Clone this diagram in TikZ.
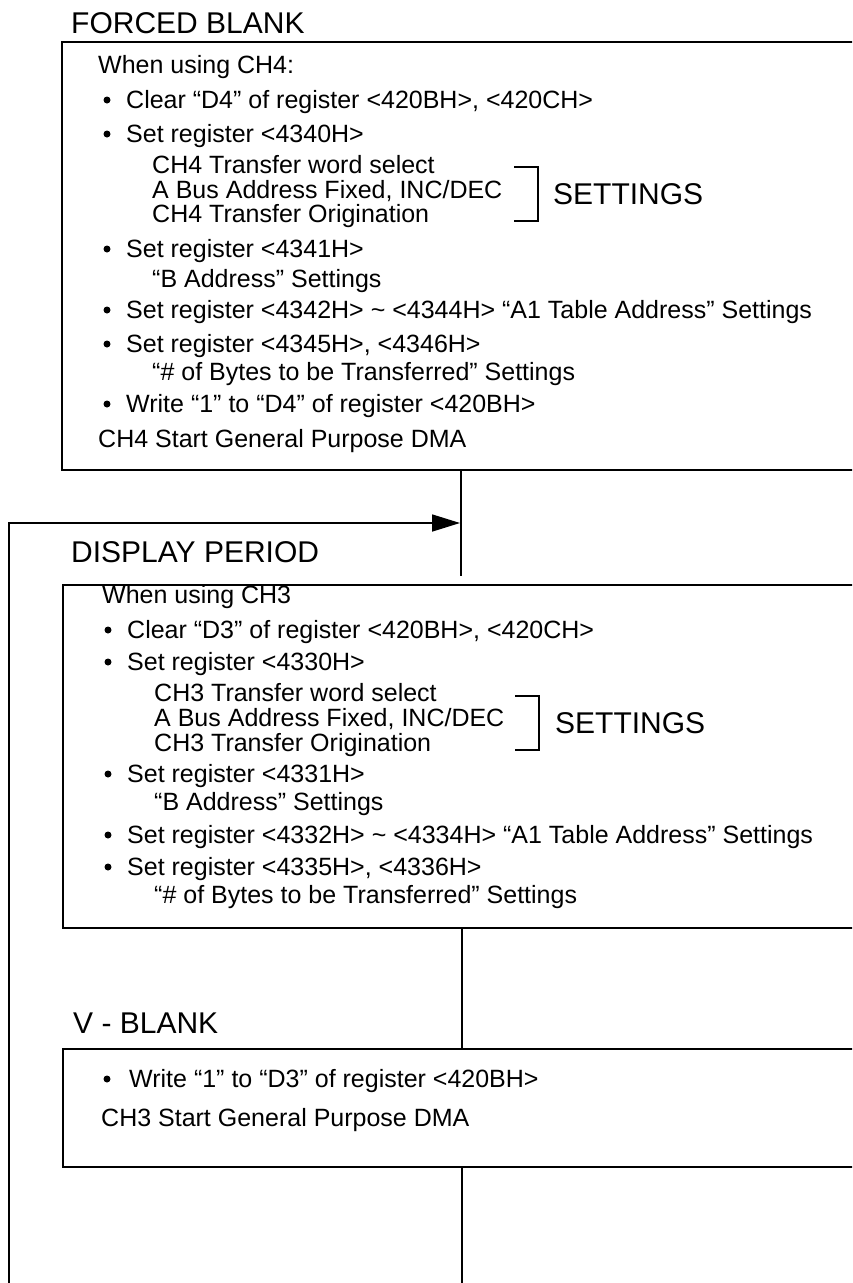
\documentclass[tikz,border=0pt]{standalone}
\usepackage{fontspec}
\setmainfont{Liberation Sans}
\usetikzlibrary{arrows.meta}
\tikzset{
  txt/.style={anchor=base west, inner sep=0pt, font=\fontsize{25}{25}\selectfont},
  head/.style={anchor=base west, inner sep=0pt, font=\fontsize{30}{30}\selectfont},
  boxline/.style={line width=2.2pt},
  conn/.style={line width=1.7pt},
  brk/.style={line width=2pt},
  dot/.style={circle, fill=black, inner sep=0pt, minimum size=7pt}
}
\begin{document}
\begin{tikzpicture}[x=1pt,y=-1pt]
\useasboundingbox (0,0) rectangle (852,1283);
\fill[white] (0,0) rectangle (852,1283);
\clip (0,0) rectangle (852,1283);

% ---------- FORCED BLANK ----------
\node[head] (h1) at (71,33) {FORCED BLANK};
\coordinate (b1tl) at (62,42);
\coordinate (b1br) at (900,470);
\draw[boxline] (b1tl) rectangle (b1br);
\node[txt] (t1a) at (98,73) {When using CH4:};
\node[dot] (d1a) at (107,100) {};
\node[txt] (t1b) at (126,108) {Clear “D4” of register <420BH>, <420CH>};
\node[dot] (d1b) at (107,134) {};
\node[txt] (t1c) at (126,142) {Set register <4340H>};
\node[txt] (t1d) at (152,173) {CH4 Transfer word select};
\node[txt] (t1e) at (152,198) {A Bus Address Fixed, INC/DEC};
\node[txt] (t1f) at (152,222) {CH4 Transfer Origination};
\draw[brk] (514,167) -- (538,167) -- (538,221) -- (514,221);
\node[head] (s1) at (553,204) {SETTINGS};
\node[dot] (d1c) at (107,249) {};
\node[txt] (t1g) at (126,257) {Set register <4341H>};
\node[txt] (t1h) at (152,287) {“B Address” Settings};
\node[dot] (d1d) at (107,310) {};
\node[txt] (t1i) at (126,318) {Set register <4342H> \textasciitilde\ <4344H> “A1 Table Address” Settings};
\node[dot] (d1e) at (107,344) {};
\node[txt] (t1j) at (126,352) {Set register <4345H>, <4346H>};
\node[txt] (t1k) at (152,380) {“\# of Bytes to be Transferred” Settings};
\node[dot] (d1f) at (107,404) {};
\node[txt] (t1l) at (126,412) {Write “1” to “D4” of register <420BH>};
\node[txt] (t1m) at (98,447) {CH4 Start General Purpose DMA};

% ---------- connectors ----------
\coordinate (c1top) at (461,470);
\coordinate (c1end) at (461,576);
\draw[conn] (c1top) -- (c1end);
\coordinate (loopbot) at (9,1290);
\coordinate (arrowtip) at (460,523);
\draw[conn, -{Triangle[length=28pt,width=17pt]}] (loopbot) |- (arrowtip);

% ---------- DISPLAY PERIOD ----------
\node[head] (h2) at (71,562) {DISPLAY PERIOD};
\coordinate (b2tl) at (63,585);
\coordinate (b2br) at (900,928);
\draw[boxline] (b2tl) rectangle (b2br);
\node[txt] (t2a) at (102,603) {When using CH3};
\node[dot] (d2a) at (108,630) {};
\node[txt] (t2b) at (127,638) {Clear “D3” of register <420BH>, <420CH>};
\node[dot] (d2b) at (108,662) {};
\node[txt] (t2c) at (127,670) {Set register <4330H>};
\node[txt] (t2d) at (154,701) {CH3 Transfer word select};
\node[txt] (t2e) at (154,726) {A Bus Address Fixed, INC/DEC};
\node[txt] (t2f) at (154,751) {CH3 Transfer Origination};
\draw[brk] (515,696) -- (539,696) -- (539,750) -- (515,750);
\node[head] (s2) at (555,733) {SETTINGS};
\node[dot] (d2c) at (108,774) {};
\node[txt] (t2g) at (127,782) {Set register <4331H>};
\node[txt] (t2h) at (154,810) {“B Address” Settings};
\node[dot] (d2d) at (108,835) {};
\node[txt] (t2i) at (127,843) {Set register <4332H> \textasciitilde\ <4334H> “A1 Table Address” Settings};
\node[dot] (d2e) at (108,867) {};
\node[txt] (t2j) at (127,875) {Set register <4335H>, <4336H>};
\node[txt] (t2k) at (154,903) {“\# of Bytes to be Transferred” Settings};

\coordinate (c2top) at (462,928);
\coordinate (c2end) at (462,1049);
\draw[conn] (c2top) -- (c2end);

% ---------- V - BLANK ----------
\node[head] (h3) at (73,1033) {V - BLANK};
\coordinate (b3tl) at (63,1049);
\coordinate (b3br) at (900,1167);
\draw[boxline] (b3tl) rectangle (b3br);
\node[dot] (d3a) at (107,1079) {};
\node[txt] (t3a) at (129,1087) {Write “1” to “D3” of register <420BH>};
\node[txt] (t3b) at (101,1126) {CH3 Start General Purpose DMA};

\coordinate (c3top) at (462,1167);
\coordinate (c3end) at (462,1290);
\draw[conn] (c3top) -- (c3end);
\end{tikzpicture}
\end{document}
